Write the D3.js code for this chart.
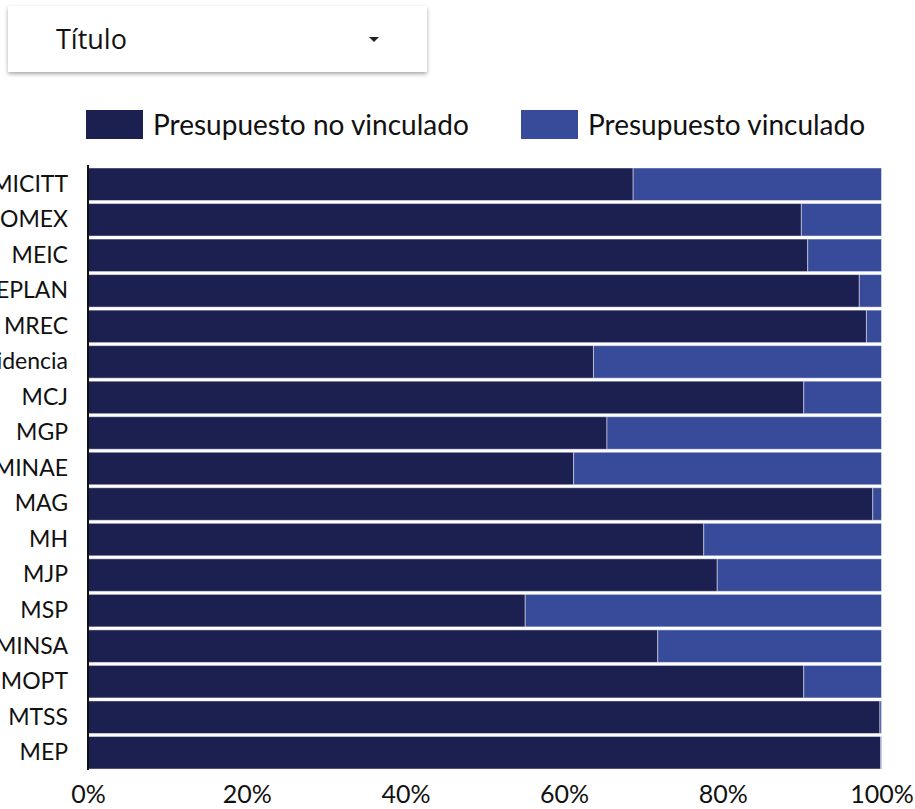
<!DOCTYPE html>
<html>
<head>
<meta charset="utf-8">
<script src="https://cdn.jsdelivr.net/npm/d3@7"></script>
<style>
  body { margin: 0; background: #fff; overflow: hidden; }
  #wrap { position: relative; width: 915px; height: 809px; }
  .dropdown {
    position: absolute; left: 8px; top: 6px; width: 419px; height: 66px;
    background: #fff; box-shadow: 0 2px 4px rgba(0,0,0,0.35);
    font-family: "Open Sans", "Noto Sans", sans-serif; font-size: 27px; color: #111;
  }
  .dropdown span { position: absolute; left: 48px; top: 14px; }
  .dropdown .caret {
    position: absolute; left: 361px; top: 31px; width: 0; height: 0;
    border-left: 5px solid transparent; border-right: 5px solid transparent; border-top: 5px solid #222;
  }
  svg { position: absolute; left: 0; top: 0; }
</style>
</head>
<body>
<div id="wrap">
  <svg id="chart" width="915" height="809"></svg>
  <div class="dropdown"><span>Título</span><div class="caret"></div></div>
</div>
<script>
var categories = ["MICITT", "COMEX", "MEIC", "MIDEPLAN", "MREC", "Presidencia", "MCJ", "MGP", "MINAE",
    "MAG", "MH", "MJP", "MSP", "MINSA", "MOPT", "MTSS", "MEP"];
var noVinculado = [68.7, 89.9, 90.7, 97.2, 98.1, 63.7, 90.2, 65.4, 61.2, 98.9, 77.6, 79.3, 55.1, 71.8, 90.2, 99.8, 99.9];
var vinculado = [31.3, 10.1, 9.3, 2.8, 1.9, 36.3, 9.8, 34.6, 38.8, 1.1, 22.4, 20.7, 44.9, 28.2, 9.8, 0.2, 0.1];
var seriesNames = ["Presupuesto no vinculado", "Presupuesto vinculado"];
var xTicks = [0, 20, 40, 60, 80, 100];

var colors = ["#1b2050", "#384b9b"];

var rows = categories.map(function (c, i) {
    return { cat: c, a: noVinculado[i], b: vinculado[i] };
});
var stack = d3.stack().keys(["a", "b"]);
var layers = stack(rows);

var svg = d3.select("#chart");

var x = d3.scaleLinear().domain([0, 100]).range([88, 881.5]);
var y = d3.scaleBand().domain(categories).range([168, 769]).paddingInner(0.085);

// bars
svg.selectAll(".layer")
    .data(layers)
    .enter().append("g")
    .attr("class", "layer")
    .style("fill", function (d, i) { return colors[i]; })
    .selectAll("rect")
    .data(function (d) { return d; })
    .enter().append("rect")
    .attr("x", function (d) { return x(d[0]); })
    .attr("y", function (d) { return y(d.data.cat); })
    .attr("width", function (d) { return Math.max(0, x(d[1]) - x(d[0])); })
    .attr("height", y.bandwidth())
    .style("stroke", "#fff")
    .style("stroke-opacity", 0.45)
    .style("stroke-width", 1);

// y axis
var yAxis = svg.append("g")
    .attr("transform", "translate(88,0)")
    .call(d3.axisLeft(y).tickSize(0).tickPadding(20));
yAxis.select(".domain").attr("d", "M0,165V770").style("stroke", "#111").style("stroke-width", 2);
yAxis.selectAll("text")
    .style("font-family", "Lato, sans-serif")
    .style("font-size", "23px")
    .style("fill", "#111");

// x axis
var xAxis = svg.append("g")
    .attr("transform", "translate(0,769)")
    .call(d3.axisBottom(x).tickValues(xTicks).tickSize(0).tickPadding(16)
        .tickFormat(function (d) { return d + "%"; }));
xAxis.select(".domain").remove();
xAxis.selectAll("text")
    .style("font-family", "Lato, sans-serif")
    .style("font-size", "25px")
    .style("fill", "#111");

// legend
var legendX = [86, 521];
var legend = svg.selectAll(".legend")
    .data(seriesNames)
    .enter().append("g")
    .attr("class", "legend")
    .attr("transform", function (d, i) { return "translate(" + legendX[i] + ",110)"; });

legend.append("rect")
    .attr("width", 57)
    .attr("height", 29)
    .style("fill", function (d, i) { return colors[i]; });

legend.append("text")
    .attr("x", 67)
    .attr("y", 15)
    .attr("dy", ".35em")
    .text(function (d) { return d; })
    .style("font-family", "Lato, sans-serif")
    .style("font-size", "28px")
    .style("fill", "#111");
</script>
</body>
</html>
